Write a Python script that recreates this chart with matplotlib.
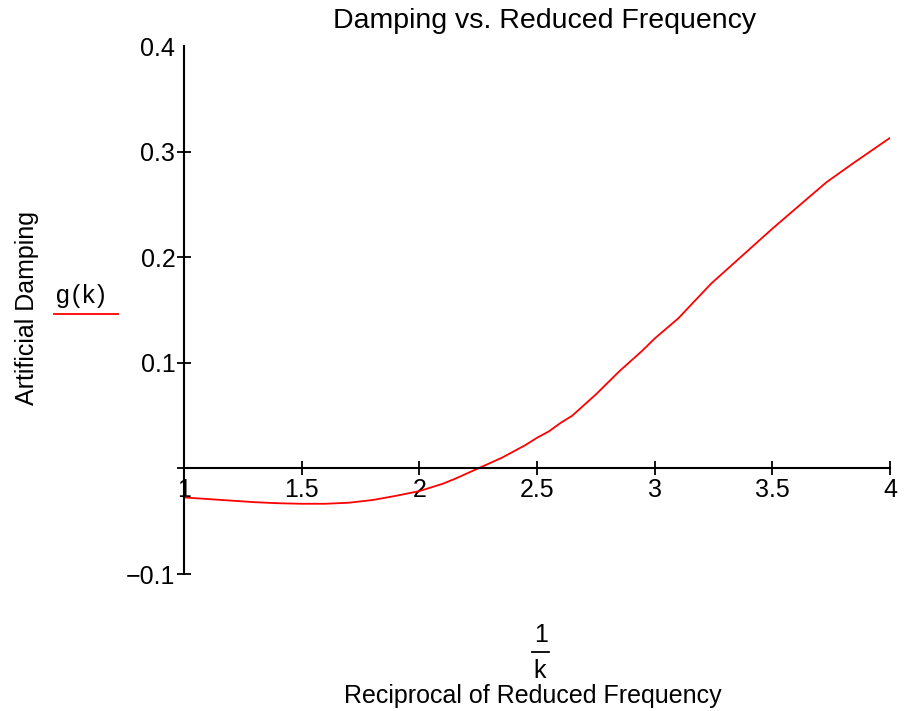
import matplotlib
matplotlib.use('Agg')
import matplotlib.pyplot as plt
from matplotlib.lines import Line2D

plt.rcParams['font.family'] = ['Liberation Sans', 'DejaVu Sans']

# === Data ===
inv_k = [1.0, 1.1, 1.2, 1.3, 1.4, 1.5, 1.6, 1.7, 1.8, 1.9, 2.0, 2.05, 2.1,
         2.15, 2.2, 2.25, 2.3, 2.35, 2.4, 2.45, 2.5, 2.55, 2.6, 2.65, 2.7,
         2.75, 2.8, 2.85, 2.9, 2.95, 3.0, 3.1, 3.24, 3.35, 3.5, 3.62, 3.73,
         3.85, 4.0]
damping = [-0.0275, -0.029, -0.0305, -0.032, -0.033, -0.0335, -0.0335, -0.0325,
           -0.030, -0.026, -0.0215, -0.018, -0.0145, -0.010, -0.005, 0.0,
           0.005, 0.010, 0.016, 0.022, 0.029, 0.035, 0.043, 0.050, 0.060,
           0.070, 0.081, 0.092, 0.102, 0.112, 0.123, 0.142, 0.175, 0.197,
           0.227, 0.250, 0.271, 0.290, 0.313]
xticks = [1, 1.5, 2, 2.5, 3, 3.5, 4]
xtick_labels = ['1', '1.5', '2', '2.5', '3', '3.5', '4']
yticks = [-0.1, 0, 0.1, 0.2, 0.3, 0.4]
ytick_labels = ['\u22120.1', '', '0.1', '0.2', '0.3', '0.4']

fig = plt.figure(figsize=(9.05, 7.11), dpi=100)
ax = fig.add_axes([184 / 905, 1 - 574 / 711, 706 / 905, 528 / 711])

ax.plot(inv_k, damping, color='red', lw=1.3)

ax.set_xlim(1, 4)
ax.set_ylim(-0.1, 0.4)
ax.spines['top'].set_visible(False)
ax.spines['right'].set_visible(False)
ax.spines['bottom'].set_position(('data', 0))
for s in ('left', 'bottom'):
    ax.spines[s].set_linewidth(1.5)

ax.set_xticks(xticks)
ax.set_xticklabels(xtick_labels)
ax.set_yticks(yticks)
ax.set_yticklabels(ytick_labels)
ax.tick_params(axis='both', direction='inout', length=10.5, width=1.3,
               labelsize=18, colors='black')
ax.tick_params(axis='x', pad=2)
ax.tick_params(axis='y', pad=1)
# no tick mark at the top of the y axis
ax.yaxis.get_major_ticks()[-1].tick1line.set_visible(False)

# title and labels
fig.text(545 / 905, 1 - 28.5 / 711, 'Damping vs. Reduced Frequency',
         ha='center', va='baseline', fontsize=20.5)
fig.text(27 / 905, 1 - 308 / 711, 'Artificial Damping', rotation=90,
         ha='center', va='center', fontsize=18)
fig.text(533 / 905, 1 - 696 / 711, 'Reciprocal of Reduced Frequency',
         ha='center', va='center', fontsize=18)

# 1/k fraction
fig.text(541 / 905, 1 - 635 / 711, '1', ha='center', va='center', fontsize=18)
fig.add_artist(Line2D([532 / 905, 549 / 905], [1 - 652 / 711, 1 - 652 / 711],
                      color='black', lw=1.3, transform=fig.transFigure))
fig.text(540 / 905, 1 - 671 / 711, 'k', ha='center', va='center', fontsize=18)

# legend entry
fig.text(81 / 905, 1 - 296 / 711, 'g\u200a(\u200ak\u200a)', ha='center',
         va='center', fontsize=18)
fig.add_artist(Line2D([54 / 905, 118 / 905], [1 - 314 / 711, 1 - 314 / 711],
                      color='red', lw=1.3, transform=fig.transFigure))

fig.savefig('out.png', dpi=100)
